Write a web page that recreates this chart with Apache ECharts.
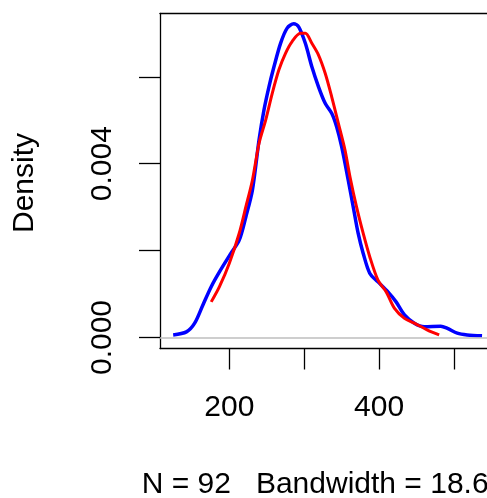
<!DOCTYPE html>
<html><head><meta charset="utf-8">
<script src="https://cdn.jsdelivr.net/npm/echarts@6/dist/echarts.min.js"></script>
<style>html,body{margin:0;padding:0;background:#fff}#c{width:487px;height:498px}</style>
</head><body><div id="c"></div>
<script>
var blueX = [125,142.7,153.7,164.7,175.8,186.8,202.2,213.2,222.1,230.8,239.7,246.3,252.9,259.6,268.4,277.2,286,292.6,301.5,310.2,319.1,328,336.7,343.3,350,358.8,365.4,372,378.7,387.5,398.5,411.8,422.7,433.9,447.1,460.3,482.3,491.2,504.4,517.6,537.5];
var blueY = [0.00006,0.00013,0.00033,0.00075,0.00117,0.00151,0.00194,0.00224,0.00278,0.00339,0.00455,0.00524,0.00577,0.00623,0.00677,0.00712,0.00722,0.00715,0.00677,0.00623,0.00577,0.00539,0.00516,0.00485,0.00439,0.00362,0.00301,0.0024,0.00194,0.00148,0.00128,0.00105,0.00082,0.00052,0.00033,0.00025,0.00026,0.00021,0.0001,0.00006,0.00004];
var redX = [175.8,186.8,200,213.2,222.1,230.8,239.7,248.6,257.3,266.2,275,283.8,294.9,301.5,310.2,319.1,328,336.7,345.6,354.4,361.1,369.8,378.7,387.5,398.5,409.5,420.6,433.9,447.1,464.7,480.2];
var redY = [0.00082,0.00117,0.00171,0.0024,0.00301,0.00362,0.00447,0.00501,0.00562,0.00616,0.00654,0.00681,0.007,0.007,0.00677,0.0065,0.00608,0.00554,0.00493,0.00432,0.0037,0.00301,0.0024,0.00186,0.00132,0.00105,0.00067,0.00044,0.00033,0.00017,0.00006];
var xTicks = [200,300,400,500];
var xLabels = [200,400];
var yTicks = [0,0.002,0.004,0.006];
var yLabels = [0,0.004];
var yTitle = 'Density';
var xTitle = 'N = 92   Bandwidth = 18.6';

function zip(a,b){return a.map(function(v,i){return [v,b[i]];});}
var FONT = 'Liberation Sans, Arial, sans-serif';
var AX = {color:'#000', width:1.3};
var chart = echarts.init(document.getElementById('c'), null, {renderer:'canvas'});
chart.setOption({
  animation:false,
  backgroundColor:'#fff',
  grid:{left:160, top:13.3, width:330, height:335.2, show:false},
  xAxis:[{type:'value', min:107.4, max:544.1, splitLine:{show:false}, position:'bottom',
    axisLine:{show:true, onZero:false, lineStyle:AX},
    axisTick:{show:true, customValues:xTicks, length:21, inside:false, lineStyle:AX},
    axisLabel:{customValues:xLabels, margin:44, fontSize:30, fontFamily:FONT, color:'#000'}},
   {type:'value', min:107.4, max:544.1, position:'top', splitLine:{show:false},
    axisLine:{show:true, onZero:false, lineStyle:AX}, axisTick:{show:false}, axisLabel:{show:false}}],
  yAxis:{type:'value', min:-0.000253, max:0.007461, splitLine:{show:false},
    axisLine:{show:true, onZero:false, lineStyle:AX},
    axisTick:{show:true, customValues:yTicks, length:21, lineStyle:AX},
    axisLabel:{customValues:yLabels, rotate:90, margin:42, fontSize:30, fontFamily:FONT, color:'#000',
      formatter:function(v){return v.toFixed(3);}}},
  graphic:[
    {type:'text', x:25, y:183, rotation:Math.PI/2, style:{text:yTitle, font:'30px '+FONT, fill:'#000', textAlign:'center', textVerticalAlign:'middle'}},
    {type:'text', x:141.7, y:485, style:{text:xTitle, font:'30px '+FONT, fill:'#000', textAlign:'left', textVerticalAlign:'middle'}}
  ],
  series:[
    {type:'line', data:zip(blueX,blueY), showSymbol:false, smooth:0.3, lineStyle:{color:'#0000ff', width:3.5}, z:3,
     markLine:{silent:true, symbol:'none', label:{show:false}, lineStyle:{color:'#bebebe', type:'solid', width:1.5}, data:[{yAxis:0}]}},
    {type:'line', data:zip(redX,redY), showSymbol:false, smooth:0.3, lineStyle:{color:'#ff0000', width:3}, z:4}
  ]
});
</script></body></html>
